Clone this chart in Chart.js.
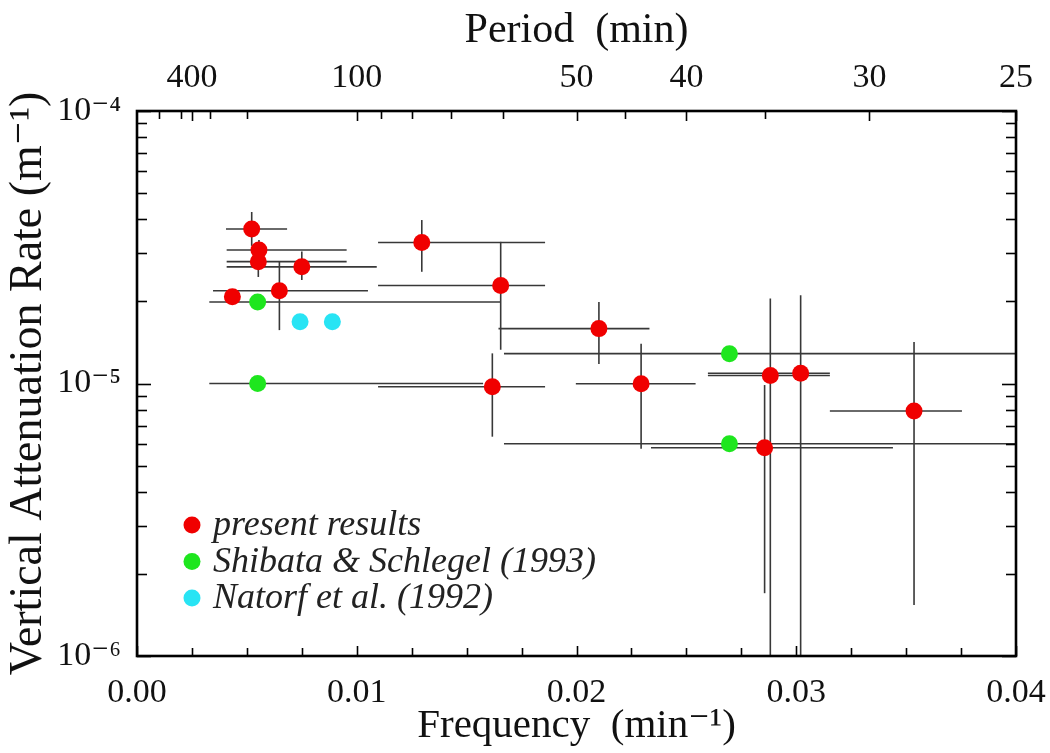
<!DOCTYPE html>
<html><head><meta charset="utf-8">
<script src="https://cdn.jsdelivr.net/npm/chart.js@4.4.0/dist/chart.umd.min.js"></script>
<style>html,body{margin:0;padding:0;background:#fff;overflow:hidden}</style>
</head><body>
<canvas id="c" width="1050" height="753" style="display:block;width:1050px;height:753px"></canvas>
<script>
// ---------------- data ----------------
const presentLabel = 'present results';
const presentFreq   = [0.00522, 0.00555, 0.00552, 0.00750, 0.00648, 0.00434, 0.01296, 0.01655, 0.02102, 0.01617, 0.02294, 0.02882, 0.03020, 0.03536, 0.02856];
const presentRate   = [3.69e-5, 3.09e-5, 2.80e-5, 2.68e-5, 2.19e-5, 2.08e-5, 3.29e-5, 2.29e-5, 1.59e-5, 9.73e-6, 9.98e-6, 1.07e-5, 1.09e-5, 7.93e-6, 5.81e-6];
const presentFreqLo = [0.00405, 0.00408, 0.00408, 0.00408, 0.00346, null, 0.01097, 0.01097, 0.01645, 0.01097, 0.01997, 0.02598, 0.02598, 0.03153, 0.02339];
const presentFreqHi = [0.00683, 0.00954, 0.00954, 0.01091, 0.01051, null, 0.01857, 0.01857, 0.02332, 0.01857, 0.02542, 0.03153, 0.03153, 0.03754, 0.03440];
const presentRateLo = [3.20e-5, 2.79e-5, 2.46e-5, 2.40e-5, 1.57e-5, null, 2.57e-5, 1.33e-5, 1.18e-5, 6.38e-6, 5.76e-6, 5.0e-7, 5.0e-7, 1.54e-6, 1.70e-6];
const presentRateHi = [4.26e-5, 3.36e-5, 3.04e-5, 3.05e-5, 2.80e-5, null, 3.98e-5, 3.31e-5, 1.99e-5, 1.29e-5, 1.40e-5, 2.05e-5, 2.11e-5, 1.42e-5, 9.87e-6];

const shibataLabel = 'Shibata & Schlegel (1993)';
const shibataFreq   = [0.00549, 0.00549, 0.02696, 0.02696];
const shibataRate   = [1.99e-5, 1.00e-5, 1.287e-5, 6.01e-6];
const shibataFreqLo = [0.00329, 0.00329, 0.0167, 0.0167];
const shibataFreqHi = [0.01652, 0.01575, 0.0405, 0.0405];

const natorfLabel = 'Natorf et al. (1992)';
const natorfFreq = [0.00742, 0.00889];
const natorfRate = [1.685e-5, 1.685e-5];

const freqMajorTicks = [0.00, 0.01, 0.02, 0.03, 0.04];
const freqMinorTicks = [0.0025, 0.005, 0.0075, 0.0125, 0.015, 0.0175, 0.0225, 0.025, 0.0275, 0.0325, 0.035, 0.0375];
const periodMajorTicks = [400, 100, 50, 40, 30, 25];
const periodMinorTicks = [1000, 500, 300, 200, 90, 80, 70, 60, 45, 35];
const rateDecades = [-6, -5, -4];

const COLORS = { present: '#f00000', shibata: '#1ee61e', natorf: '#28e4f4' };
const SERIF = '"Liberation Serif", "DejaVu Serif", serif';

// ---------------- helpers ----------------
const SUP = {'-':'\u207B','0':'\u2070','1':'\u00B9','2':'\u00B2','3':'\u00B3','4':'\u2074','5':'\u2075','6':'\u2076','7':'\u2077','8':'\u2078','9':'\u2079'};
const sup = s => String(s).split('').map(c => SUP[c] || c).join('');
const pts = (xs, ys) => xs.map((x, i) => ({x, y: ys[i]}));
function isDecade(v) { const l = Math.log10(v); return Math.abs(l - Math.round(l)) < 1e-6; }

const rateTickValues = [];
for (let k = 0; k < rateDecades.length; k++) {
  const base = Math.pow(10, rateDecades[k]);
  if (k === rateDecades.length - 1) { rateTickValues.push(base); break; }
  for (let m = 1; m <= 9; m++) rateTickValues.push(m * base);
}

// ---------------- plugins ----------------
const errorBars = {
  id: 'errorBars',
  beforeDatasetsDraw(chart) {
    const {ctx, chartArea: a, scales: {x, y}} = chart;
    ctx.save();
    ctx.beginPath(); ctx.rect(a.left, a.top, a.right - a.left, a.bottom - a.top); ctx.clip();
    ctx.strokeStyle = '#383838'; ctx.lineWidth = 1.6; ctx.lineCap = 'butt';
    chart.data.datasets.forEach(ds => {
      const e = ds.errors; if (!e) return;
      ds.data.forEach((p, i) => {
        const px = x.getPixelForValue(p.x), py = y.getPixelForValue(p.y);
        if (e.xLo && e.xLo[i] != null) {
          ctx.beginPath(); ctx.moveTo(x.getPixelForValue(e.xLo[i]), py); ctx.lineTo(x.getPixelForValue(e.xHi[i]), py); ctx.stroke();
        }
        if (e.yLo && e.yLo[i] != null) {
          ctx.beginPath(); ctx.moveTo(px, y.getPixelForValue(e.yLo[i])); ctx.lineTo(px, y.getPixelForValue(e.yHi[i])); ctx.stroke();
        }
      });
    });
    ctx.restore();
  }
};

const frameTicks = {
  id: 'frameTicks',
  afterDatasetsDraw(chart) {
    const {ctx, chartArea: a, scales} = chart;
    ctx.save();
    ctx.strokeStyle = '#000'; ctx.lineWidth = 1.6;
    const minor = 8, major = 10;
    scales.x.ticks.forEach(t => {
      const px = Math.round(scales.x.getPixelForValue(t.value)) + 0.5;
      const len = freqMajorTicks.some(v => Math.abs(v - t.value) < 1e-9) ? major : minor;
      ctx.beginPath(); ctx.moveTo(px, a.bottom); ctx.lineTo(px, a.bottom - len); ctx.stroke();
    });
    scales.x2.ticks.forEach(t => {
      const px = Math.round(scales.x2.getPixelForValue(t.value)) + 0.5;
      const p = Math.round(1 / t.value);
      const len = periodMajorTicks.includes(p) ? major : minor;
      ctx.beginPath(); ctx.moveTo(px, a.top); ctx.lineTo(px, a.top + len); ctx.stroke();
    });
    scales.y.ticks.forEach(t => {
      const py = Math.round(scales.y.getPixelForValue(t.value)) + 0.5;
      const len = isDecade(t.value) ? major + 4 : minor + 2;
      ctx.beginPath(); ctx.moveTo(a.left, py); ctx.lineTo(a.left + len, py); ctx.stroke();
      ctx.beginPath(); ctx.moveTo(a.right, py); ctx.lineTo(a.right - len, py); ctx.stroke();
    });
    ctx.lineWidth = 2.6;
    ctx.strokeRect(a.left, a.top, a.right - a.left, a.bottom - a.top);
    ctx.restore();
  }
};

const innerLegend = {
  id: 'innerLegend',
  afterDraw(chart) {
    const {ctx, chartArea: a} = chart;
    ctx.save();
    ctx.font = 'italic 36px ' + SERIF;
    ctx.textBaseline = 'middle'; ctx.textAlign = 'left';
    const x0 = a.left + 55, y0 = a.bottom - 131, dy = 36.5;
    chart.data.datasets.forEach((ds, i) => {
      const y = y0 + i * dy;
      ctx.fillStyle = ds.backgroundColor;
      ctx.beginPath(); ctx.arc(x0, y, 8.5, 0, Math.PI * 2); ctx.fill();
      ctx.fillStyle = '#222';
      ctx.fillText(ds.label, x0 + 21, y + 1);
    });
    ctx.restore();
  }
};

// ---------------- chart ----------------
new Chart(document.getElementById('c'), {
  type: 'scatter',
  data: {
    datasets: [
      { label: presentLabel, data: pts(presentFreq, presentRate), backgroundColor: COLORS.present,
        errors: { xLo: presentFreqLo, xHi: presentFreqHi, yLo: presentRateLo, yHi: presentRateHi } },
      { label: shibataLabel, data: pts(shibataFreq, shibataRate), backgroundColor: COLORS.shibata,
        errors: { xLo: shibataFreqLo, xHi: shibataFreqHi } },
      { label: natorfLabel, data: pts(natorfFreq, natorfRate), backgroundColor: COLORS.natorf }
    ]
  },
  options: {
    responsive: false, animation: false, devicePixelRatio: 1,
    layout: { padding: { left: 0, right: 34, top: 0, bottom: 0 } },
    elements: { point: { radius: 8.5, hoverRadius: 8.5, borderWidth: 0 } },
    plugins: { legend: { display: false }, tooltip: { enabled: false } },
    events: [],
    scales: {
      x: {
        type: 'linear', position: 'bottom', min: 0, max: 0.04,
        grid: { display: false }, border: { display: false },
        afterBuildTicks: s => { s.ticks = freqMajorTicks.concat(freqMinorTicks).sort((a, b) => a - b).map(v => ({value: v})); },
        afterFit: s => { s.height = 97; s.paddingLeft = 0; s.paddingRight = 0; },
        ticks: { autoSkip: false, maxRotation: 0, padding: 9, color: '#111',
          font: { family: SERIF, size: 34 },
          callback: v => freqMajorTicks.some(m => Math.abs(m - v) < 1e-9) ? v.toFixed(2) : '' },
        title: { display: true, text: 'Frequency  (min' + sup('-1') + ')', color: '#111',
          font: { family: SERIF, size: 41 }, padding: { top: 0, bottom: 2 } }
      },
      x2: {
        type: 'linear', position: 'top', min: 0, max: 0.04,
        grid: { display: false }, border: { display: false },
        afterBuildTicks: s => { s.ticks = periodMajorTicks.concat(periodMinorTicks).map(p => 1 / p).sort((a, b) => a - b).map(v => ({value: v})); },
        afterFit: s => { s.height = 111; s.paddingLeft = 0; s.paddingRight = 0; },
        ticks: { autoSkip: false, maxRotation: 0, padding: 5, color: '#111',
          font: { family: SERIF, size: 34 },
          callback: v => { const p = Math.round(1 / v); return periodMajorTicks.includes(p) ? String(p) : ''; } },
        title: { display: true, text: 'Period  (min)', color: '#111',
          font: { family: SERIF, size: 42 }, padding: { top: 6, bottom: 0 } }
      },
      y: {
        type: 'logarithmic', position: 'left', min: 1e-6, max: 1e-4,
        grid: { display: false }, border: { display: false },
        afterBuildTicks: s => { s.ticks = rateTickValues.map(v => ({value: v})); },
        afterFit: s => { s.width = 137; s.paddingTop = 0; s.paddingBottom = 0; },
        ticks: { autoSkip: false, padding: 8, color: '#111',
          font: { family: SERIF, size: 34 },
          callback: v => isDecade(v) ? '10' + sup(Math.round(Math.log10(v))) : '' },
        title: { display: true, text: 'Vertical Attenuation Rate (m' + sup('-1') + ')', color: '#111',
          font: { family: SERIF, size: 46 }, padding: { top: 1, bottom: 0 } }
      }
    }
  },
  plugins: [errorBars, frameTicks, innerLegend]
});
</script>
</body></html>
